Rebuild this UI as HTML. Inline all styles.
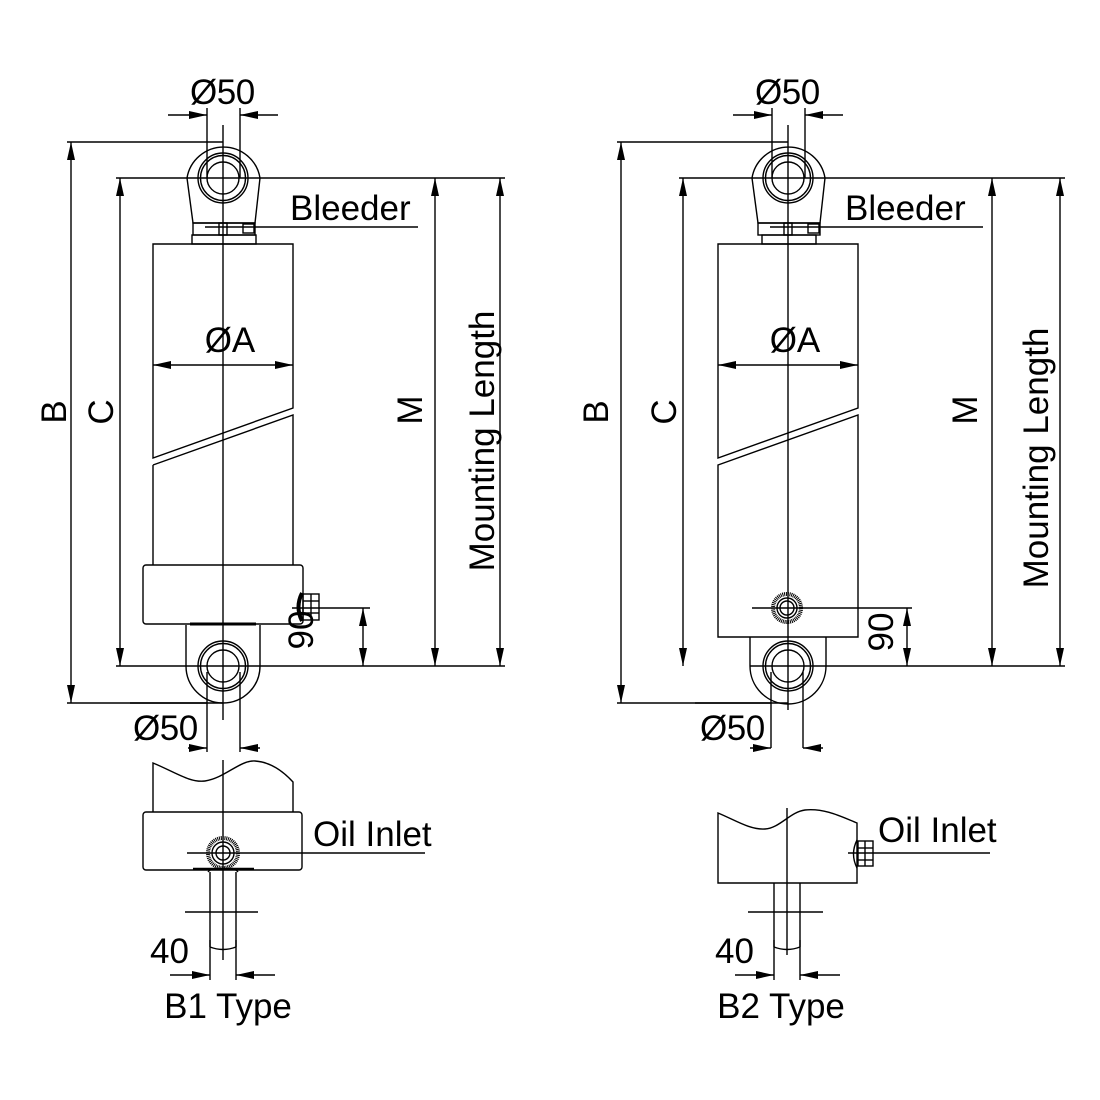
<!DOCTYPE html>
<html><head><meta charset="utf-8"><style>
html,body{margin:0;padding:0;background:#fff}
svg{display:block}
text{font-family:"Liberation Sans",sans-serif;fill:#000}
</style></head><body>
<svg width="1100" height="1100" viewBox="0 0 1100 1100" xmlns="http://www.w3.org/2000/svg">
<defs>
<marker id="a" viewBox="0 0 18 8" refX="18" refY="4" markerWidth="18" markerHeight="8" markerUnits="userSpaceOnUse" orient="auto-start-reverse">
<path d="M0,0 L18,4 L0,8 Z" fill="#000"/></marker>
</defs>
<g fill="none" stroke="#000" stroke-width="1.4">

<path d="M193,223 L187,178 A37,37 0 0 1 260,178 L255,223 Z" fill="#fff"/>
<circle cx="223" cy="178" r="25"/><circle cx="223" cy="178" r="22.5"/><circle cx="223" cy="178" r="16"/>
<rect x="193" y="223" width="62" height="12"/>
<rect x="192" y="235" width="64" height="9"/>
<rect x="219" y="223" width="8" height="12"/>
<rect x="243" y="224" width="11" height="9"/>
<path d="M153,458 L153,244 L293,244 L293,408 Z"/>
<path d="M153,465 L293,415 L293,565 M153,465 L153,565"/>
<rect x="143" y="565" width="160" height="59" rx="3"/>
<path d="M186,625 L186,666 A37,37 0 0 0 260,666 L260,625"/>
<line x1="190" y1="624" x2="256" y2="624" stroke-width="3"/>
<circle cx="223" cy="666" r="25"/><circle cx="223" cy="666" r="22.5"/><circle cx="223" cy="666" r="16"/>
<path d="M302,593 Q295,607 302,621" stroke-width="4"/>
<rect x="303" y="594" width="16" height="26"/>
<line x1="303" y1="601" x2="319" y2="601"/><line x1="303" y1="613" x2="319" y2="613"/>
<line x1="311" y1="594" x2="311" y2="620"/>
<line x1="223" y1="125" x2="223" y2="720"/>
<line x1="168" y1="115" x2="207" y2="115" marker-end="url(#a)"/>
<line x1="278" y1="115" x2="240" y2="115" marker-end="url(#a)"/>
<line x1="207" y1="108" x2="207" y2="178"/><line x1="240" y1="108" x2="240" y2="178"/>
<line x1="67" y1="142" x2="223" y2="142"/>
<line x1="67" y1="703" x2="223" y2="703"/>
<line x1="116" y1="178" x2="505" y2="178"/>
<line x1="116" y1="666" x2="505" y2="666"/>
<line x1="71" y1="142" x2="71" y2="703" marker-start="url(#a)" marker-end="url(#a)"/>
<line x1="120" y1="178" x2="120" y2="666" marker-start="url(#a)" marker-end="url(#a)"/>
<line x1="435" y1="178" x2="435" y2="666" marker-start="url(#a)" marker-end="url(#a)"/>
<line x1="500" y1="178" x2="500" y2="666" marker-start="url(#a)" marker-end="url(#a)"/>
<line x1="153" y1="365" x2="293" y2="365" marker-start="url(#a)" marker-end="url(#a)"/>
<line x1="205" y1="227" x2="418" y2="227"/>
<line x1="292" y1="608" x2="370" y2="608"/>
<line x1="363" y1="608" x2="363" y2="666" marker-start="url(#a)" marker-end="url(#a)"/>
<line x1="207" y1="672" x2="207" y2="752"/><line x1="240" y1="672" x2="240" y2="752"/>
<line x1="130" y1="703" x2="207" y2="703"/>
<line x1="188" y1="748" x2="207" y2="748" marker-end="url(#a)"/>
<line x1="260" y1="748" x2="240" y2="748" marker-end="url(#a)"/>

<path d="M153,812 L153,763 C175,772 190,783 205,781 C225,778 240,760 255,761 C270,762 282,770 293,782 L293,812"/>
<rect x="143" y="812" width="159" height="58" rx="3"/>
<circle cx="223" cy="853" r="15" stroke-width="4" stroke-dasharray="1 0.8"/>
<circle cx="223" cy="853" r="11"/><circle cx="223" cy="853" r="7"/>
<line x1="193" y1="869" x2="254" y2="869" stroke-width="2.5"/>
<path d="M210,872 L210,947 M236,872 L236,947 M210,947 Q223,952 236,947 M208,872 Q210,869 214,869 M232,869 Q236,869 238,872"/>
<line x1="223" y1="760" x2="223" y2="960"/>
<line x1="187" y1="853" x2="425" y2="853"/>
<line x1="185" y1="912" x2="258" y2="912"/>
<line x1="210" y1="940" x2="210" y2="980"/><line x1="236" y1="940" x2="236" y2="980"/>
<line x1="170" y1="975" x2="210" y2="975" marker-end="url(#a)"/>
<line x1="275" y1="975" x2="236" y2="975" marker-end="url(#a)"/>

<g transform="translate(565,0)">
<path d="M193,223 L187,178 A37,37 0 0 1 260,178 L255,223 Z" fill="#fff"/>
<circle cx="223" cy="178" r="25"/><circle cx="223" cy="178" r="22.5"/><circle cx="223" cy="178" r="16"/>
<rect x="193" y="223" width="62" height="12"/>
<rect x="197" y="235" width="54" height="9"/>
<rect x="219" y="223" width="8" height="12"/>
<rect x="243" y="224" width="11" height="9"/>
<path d="M153,458 L153,244 L293,244 L293,408 Z"/>
<path d="M153,465 L293,415 L293,637 L153,637 Z"/>
<path d="M185,637 L185,666 A38,38 0 0 0 261,666 L261,637"/>
<circle cx="223" cy="666" r="25"/><circle cx="223" cy="666" r="22.5"/><circle cx="223" cy="666" r="16"/>
<circle cx="222" cy="608" r="14" stroke-width="4" stroke-dasharray="1 0.8"/>
<circle cx="222" cy="608" r="10"/><circle cx="222" cy="608" r="7"/>
<line x1="223" y1="125" x2="223" y2="710"/>
<line x1="168" y1="115" x2="207" y2="115" marker-end="url(#a)"/>
<line x1="278" y1="115" x2="240" y2="115" marker-end="url(#a)"/>
<line x1="207" y1="108" x2="207" y2="178"/><line x1="240" y1="108" x2="240" y2="178"/>
<line x1="52" y1="142" x2="223" y2="142"/>
<line x1="52" y1="703" x2="223" y2="703"/>
<line x1="114" y1="178" x2="500" y2="178"/>
<line x1="185" y1="666" x2="500" y2="666"/>
<line x1="56" y1="142" x2="56" y2="703" marker-start="url(#a)" marker-end="url(#a)"/>
<line x1="118" y1="178" x2="118" y2="666" marker-start="url(#a)" marker-end="url(#a)"/>
<line x1="427" y1="178" x2="427" y2="666" marker-start="url(#a)" marker-end="url(#a)"/>
<line x1="495" y1="178" x2="495" y2="666" marker-start="url(#a)" marker-end="url(#a)"/>
<line x1="153" y1="365" x2="293" y2="365" marker-start="url(#a)" marker-end="url(#a)"/>
<line x1="205" y1="227" x2="418" y2="227"/>
<line x1="187" y1="608" x2="347" y2="608"/>
<line x1="342" y1="608" x2="342" y2="666" marker-start="url(#a)" marker-end="url(#a)"/>
<line x1="206" y1="672" x2="206" y2="748"/><line x1="238" y1="672" x2="238" y2="748"/>
<line x1="130" y1="703" x2="206" y2="703"/>
<line x1="185" y1="748" x2="206" y2="748" marker-end="url(#a)"/>
<line x1="258" y1="748" x2="238" y2="748" marker-end="url(#a)"/>
</g>

<path d="M718,883 L718,813 C735,820 750,830 765,829 C780,828 790,812 805,810 C825,808 842,817 857,823 L857,883 Z"/>
<path d="M857,840 Q850,854 857,868" />
<rect x="858" y="841" width="15" height="25"/>
<line x1="858" y1="848" x2="873" y2="848"/><line x1="858" y1="860" x2="873" y2="860"/>
<line x1="865" y1="841" x2="865" y2="866"/>
<line x1="848" y1="853" x2="990" y2="853"/>
<path d="M774,883 L774,947 M800,883 L800,947 M774,947 Q787,952 800,947"/>
<line x1="787" y1="808" x2="787" y2="955"/>
<line x1="748" y1="912" x2="823" y2="912"/>
<line x1="774" y1="940" x2="774" y2="980"/><line x1="800" y1="940" x2="800" y2="980"/>
<line x1="735" y1="975" x2="774" y2="975" marker-end="url(#a)"/>
<line x1="840" y1="975" x2="800" y2="975" marker-end="url(#a)"/>
</g>

<g font-size="35">
<text x="190" y="104" letter-spacing="-0.5">Ø50</text>
<text x="755" y="104" letter-spacing="-0.5">Ø50</text>
<text x="290" y="220">Bleeder</text>
<text x="845" y="220">Bleeder</text>
<text x="230" y="352" text-anchor="middle">ØA</text>
<text x="795" y="352" text-anchor="middle">ØA</text>
<text transform="translate(66,412) rotate(-90)" text-anchor="middle">B</text>
<text transform="translate(113,412) rotate(-90)" text-anchor="middle">C</text>
<text transform="translate(422,410) rotate(-90)" text-anchor="middle">M</text>
<text transform="translate(494,441) rotate(-90)" text-anchor="middle">Mounting Length</text>
<text transform="translate(608,412) rotate(-90)" text-anchor="middle">B</text>
<text transform="translate(676,412) rotate(-90)" text-anchor="middle">C</text>
<text transform="translate(977,410) rotate(-90)" text-anchor="middle">M</text>
<text transform="translate(1048,458) rotate(-90)" text-anchor="middle">Mounting Length</text>
<text transform="translate(313,630) rotate(-90)" text-anchor="middle">90</text>
<text transform="translate(893,632) rotate(-90)" text-anchor="middle">90</text>
<text x="133" y="740" letter-spacing="-0.5">Ø50</text>
<text x="700" y="740" letter-spacing="-0.5">Ø50</text>
<text x="313" y="846">Oil Inlet</text>
<text x="878" y="842">Oil Inlet</text>
<text x="150" y="963">40</text>
<text x="715" y="963">40</text>
<text x="228" y="1018" text-anchor="middle">B1 Type</text>
<text x="781" y="1018" text-anchor="middle">B2 Type</text>
</g>
</svg>
</body></html>
